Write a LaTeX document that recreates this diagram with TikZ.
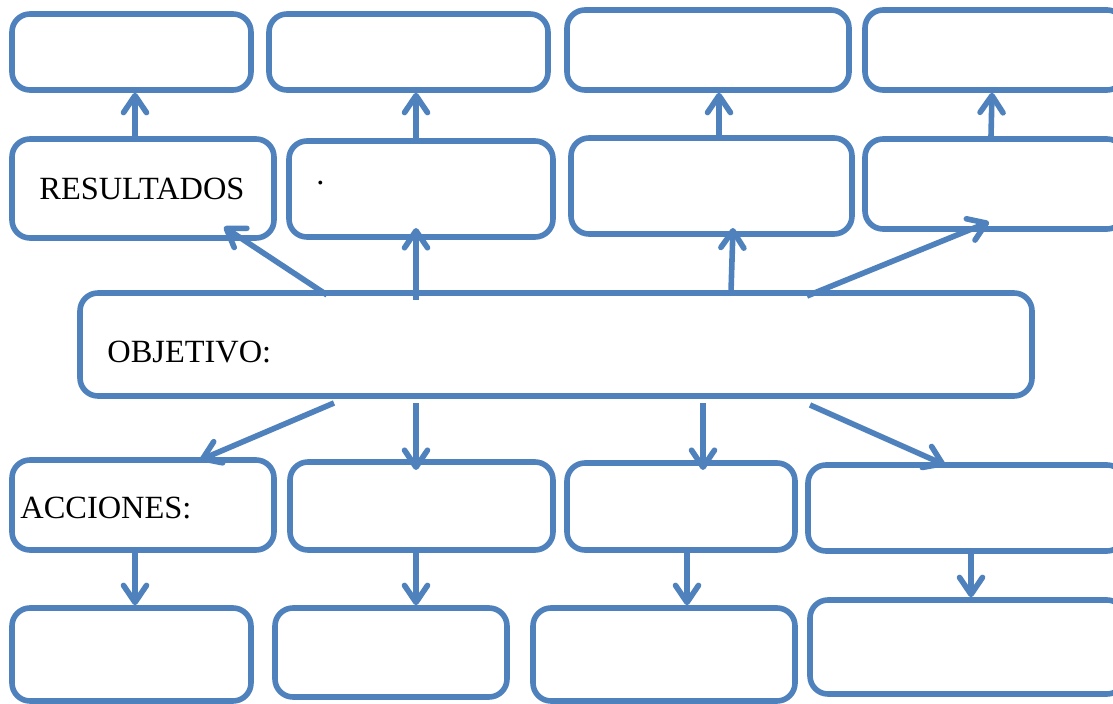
\documentclass[tikz,border=0pt]{standalone}
\usepackage{fontspec}
\setmainfont{Liberation Serif}
\usetikzlibrary{arrows.meta}
\definecolor{ablue}{HTML}{4F81BD}
\tikzset{
  box/.style={draw=ablue, line width=2.8pt, rounded corners=9pt, rectangle, inner sep=0pt},
  arr/.style={draw=ablue, line width=2.8pt, -{Straight Barb[length=8.5pt,width=11.5pt,round]}},
  lbl/.style={anchor=base west, inner sep=0pt, font=\fontsize{16.2pt}{19pt}\selectfont}
}
\newcommand{\bx}[5]{\node[box, minimum width={(#4-#2)*0.5pt}, minimum height={(#5-#3)*0.5pt}] (#1) at ({(#2+#4)/2},{(#3+#5)/2}) {};}
\begin{document}
\begin{tikzpicture}[x=0.5pt,y=-0.5pt]
\useasboundingbox (0,0) rectangle (1113,704);
% row 1
\bx{A1}{12}{14}{251}{90}
\bx{A2}{269}{14}{548}{90}
\bx{A3}{567}{10}{849}{90}
\bx{A4}{865}{10}{1125}{90}
% row 2
\bx{B1}{12}{139}{274}{238}
\bx{B2}{289}{141}{553}{237}
\bx{B3}{571}{138}{852}{234}
\bx{B4}{865}{139}{1125}{229}
% objective
\bx{obj}{80}{293}{1032}{396}
% row 3
\bx{C1}{12}{460}{274}{550}
\bx{C2}{290}{462}{553}{550}
\bx{C3}{567}{463}{795}{550}
\bx{C4}{808}{465}{1125}{551}
% row 4
\bx{D1}{12}{608}{251}{701}
\bx{D2}{275}{608}{507}{697}
\bx{D3}{533}{608}{795}{701}
\bx{D4}{810}{600}{1125}{694}
% texts
\node[lbl] (tres) at (39,200) {RESULTADOS};
\node[lbl] (tdot) at (316,185) {.};
\node[lbl] (tobj) at (107,363) {OBJETIVO:};
\node[lbl] (tacc) at (20,519) {ACCIONES:};
% row2 -> row1
\draw[arr] (135,0 |- B1.north) -- (135,0 |- A1.south);
\draw[arr] (416,0 |- B2.north) -- (416,0 |- A2.south);
\draw[arr] (719,0 |- B3.north) -- (719,0 |- A3.south);
\draw[arr] (991,0 |- B4.north) -- (992,0 |- A4.south);
% objective -> row2
\coordinate (o1) at (327,295);
\coordinate (r1) at (224,227);
\coordinate (o2) at (416,300);
\coordinate (r2) at (416,228);
\coordinate (o3) at (731,292);
\coordinate (r3) at (733,228);
\coordinate (o4) at (807,296);
\coordinate (r4) at (989,222);
\draw[arr] (o1) -- (r1);
\draw[arr] (o2) -- (r2);
\draw[arr] (o3) -- (r3);
\draw[arr] (o4) -- (r4);
% objective -> row3
\coordinate (p1) at (334,403);
\coordinate (s1) at (200,460);
\coordinate (p2) at (416,403);
\coordinate (s2) at (416,470);
\coordinate (p3) at (703,403);
\coordinate (s3) at (703,470);
\coordinate (p4) at (810,405);
\coordinate (s4) at (945,465);
\draw[arr] (p1) -- (s1);
\draw[arr] (p2) -- (s2);
\draw[arr] (p3) -- (s3);
\draw[arr] (p4) -- (s4);
% row3 -> row4
\draw[arr] (135,0 |- C1.south) -- (135,0 |- D1.north);
\draw[arr] (416,0 |- C2.south) -- (416,0 |- D2.north);
\draw[arr] (687,0 |- C3.south) -- (687,0 |- D3.north);
\draw[arr] (971,0 |- C4.south) -- (971,0 |- D4.north);
\end{tikzpicture}
\end{document}
